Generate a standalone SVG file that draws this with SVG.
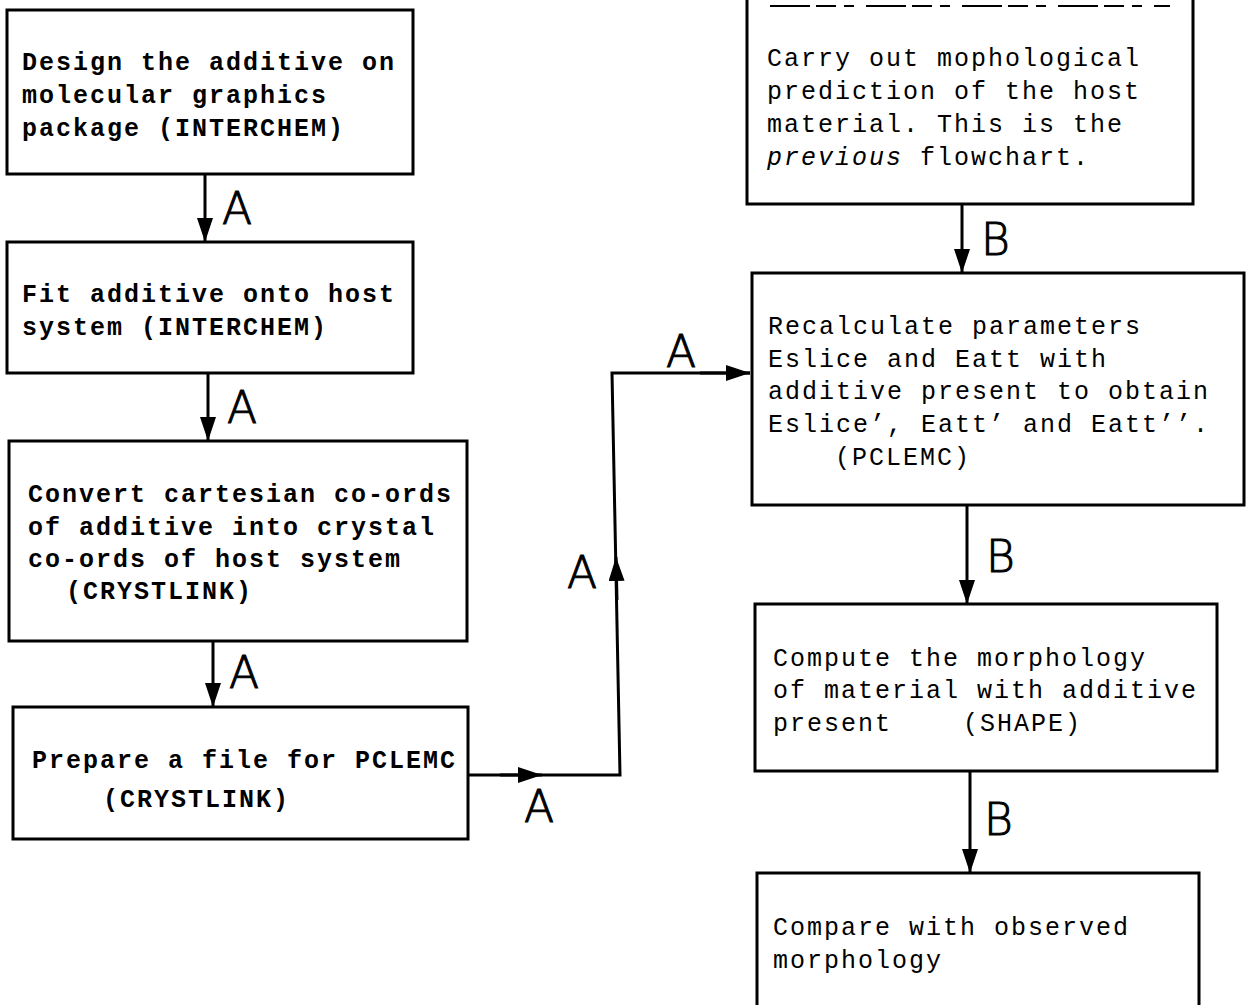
<svg xmlns="http://www.w3.org/2000/svg" width="1246" height="1005" viewBox="0 0 1246 1005">
<style>
.box{fill:none;stroke:#000;stroke-width:3}
.t{font-family:"Liberation Mono","Courier New",monospace;font-size:25px;letter-spacing:2px;fill:#000}
.b{font-weight:bold}
.lbl{font-family:"DejaVu Sans","Liberation Sans",sans-serif;font-weight:200;font-size:44px;fill:#000;stroke:#000;stroke-width:1}
.con{fill:none;stroke:#000;stroke-width:3}
</style>
<defs>
<marker id="ah" markerUnits="userSpaceOnUse" markerWidth="24" markerHeight="16" refX="24" refY="8" orient="auto">
<path d="M0,0 L24,8 L0,16 Z" fill="#000"/>
</marker>
</defs>
<rect width="1246" height="1005" fill="#fff"/>

<g id="n-design">
<rect class="box" x="7" y="10" width="406" height="164"/>
<text class="t b" x="22" y="70">Design the additive on</text>
<text class="t b" x="22" y="103">molecular graphics</text>
<text class="t b" x="22" y="136">package (INTERCHEM)</text>
</g>

<g id="n-fit">
<rect class="box" x="7" y="242" width="406" height="131"/>
<text class="t b" x="22" y="302">Fit additive onto host</text>
<text class="t b" x="22" y="335">system (INTERCHEM)</text>
</g>

<g id="n-convert">
<rect class="box" x="9" y="441" width="458" height="200"/>
<text class="t b" x="28" y="502">Convert cartesian co-ords</text>
<text class="t b" x="28" y="535">of additive into crystal</text>
<text class="t b" x="28" y="567">co-ords of host system</text>
<text class="t b" x="66" y="599">(CRYSTLINK)</text>
</g>

<g id="n-prepare">
<rect class="box" x="13" y="707" width="455" height="132"/>
<text class="t b" x="32" y="768">Prepare a file for PCLEMC</text>
<text class="t b" x="103" y="807">(CRYSTLINK)</text>
</g>

<g id="n-carry">
<path class="box" d="M747,0 V204 H1193 V0"/>
<path d="M770,6 H1170" stroke="#000" stroke-width="2" stroke-dasharray="40,6,20,8,10,12" fill="none"/>
<text class="t" x="767" y="66">Carry out mophological</text>
<text class="t" x="767" y="99">prediction of the host</text>
<text class="t" x="767" y="132">material. This is the</text>
<text class="t" x="767" y="165"><tspan font-style="italic">previous</tspan> flowchart.</text>
</g>

<g id="n-recalc">
<rect class="box" x="752" y="273" width="492" height="232"/>
<text class="t" x="768" y="334">Recalculate parameters</text>
<text class="t" x="768" y="367">Eslice and Eatt with</text>
<text class="t" x="768" y="399">additive present to obtain</text>
<text class="t" x="768" y="432">Eslice’, Eatt’ and Eatt’’.</text>
<text class="t" x="835" y="465">(PCLEMC)</text>
</g>

<g id="n-compute">
<rect class="box" x="755" y="604" width="462" height="167"/>
<text class="t" x="773" y="666">Compute the morphology</text>
<text class="t" x="773" y="698">of material with additive</text>
<text class="t" x="773" y="731">present</text>
<text class="t" x="963" y="731">(SHAPE)</text>
</g>

<g id="n-compare">
<path class="box" d="M757,1005 V873 H1199 V1005"/>
<text class="t" x="773" y="935">Compare with observed</text>
<text class="t" x="773" y="968">morphology</text>
</g>

<g id="connectors">
<path class="con" d="M205,174 V242" marker-end="url(#ah)"/>
<path class="con" d="M208,373 V441" marker-end="url(#ah)"/>
<path class="con" d="M213,641 V707" marker-end="url(#ah)"/>
<path class="con" d="M468,775 H620 L612,373 H750"/>
<path class="con" d="M500,775 H542" marker-end="url(#ah)"/>
<path class="con" d="M617,600 L616,557" marker-end="url(#ah)"/>
<path class="con" d="M700,373 H750" marker-end="url(#ah)"/>
<path class="con" d="M962,204 V273" marker-end="url(#ah)"/>
<path class="con" d="M967,505 V604" marker-end="url(#ah)"/>
<path class="con" d="M970,771 V873" marker-end="url(#ah)"/>
<text class="lbl" x="222" y="224">A</text>
<text class="lbl" x="227" y="423">A</text>
<text class="lbl" x="229" y="688">A</text>
<text class="lbl" x="524" y="822">A</text>
<text class="lbl" x="567" y="588">A</text>
<text class="lbl" x="666" y="367">A</text>
<text class="lbl" x="981" y="255">B</text>
<text class="lbl" x="986" y="572">B</text>
<text class="lbl" x="984" y="835">B</text>
</g>
</svg>
